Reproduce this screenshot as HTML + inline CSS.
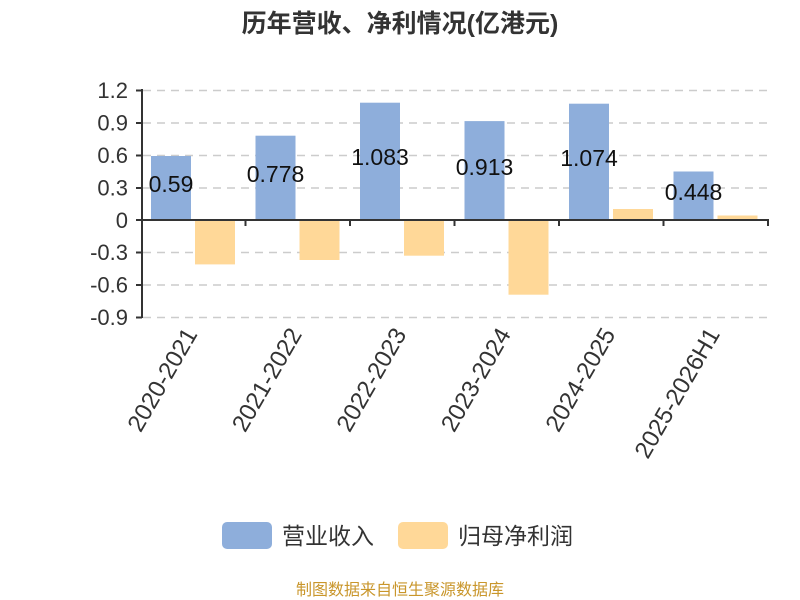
<!DOCTYPE html>
<html><head><meta charset="utf-8"><style>body{margin:0;background:#fff}svg{display:block}text{font-family:"Liberation Sans","Noto Sans CJK SC",sans-serif}</style></head><body>
<svg width="800" height="600" viewBox="0 0 800 600">
<text x="400" y="32" text-anchor="middle" font-size="25" font-weight="bold" fill="#333">历年营收、净利情况(亿港元)</text>
<g stroke="#ccc" stroke-width="1.5" stroke-dasharray="8,6">
<line x1="143" y1="90.5" x2="768" y2="90.5"/><line x1="143" y1="123" x2="768" y2="123"/><line x1="143" y1="155.5" x2="768" y2="155.5"/><line x1="143" y1="188" x2="768" y2="188"/><line x1="143" y1="252.5" x2="768" y2="252.5"/><line x1="143" y1="285" x2="768" y2="285"/><line x1="143" y1="317.5" x2="768" y2="317.5"/>
</g>
<g fill="#8eaedb">
<rect x="151" y="156" width="40" height="64"/><rect x="255.5" y="135.7" width="40" height="84.3"/><rect x="360" y="102.7" width="40" height="117.3"/><rect x="464.5" y="121.1" width="40" height="98.9"/><rect x="569" y="103.7" width="40" height="116.3"/><rect x="673.5" y="171.5" width="40" height="48.5"/>
</g>
<g fill="#ffd898">
<rect x="195" y="220" width="40" height="44.4"/><rect x="299.5" y="220" width="40" height="40"/><rect x="404" y="220" width="40" height="35.7"/><rect x="508.5" y="220" width="40" height="74.7"/><rect x="613" y="209" width="40" height="11"/><rect x="717.5" y="215.5" width="40" height="4.5"/>
</g>
<g stroke="#333" stroke-width="2" fill="none">
<line x1="142" y1="89" x2="142" y2="318"/><line x1="141" y1="220" x2="769" y2="220"/>
<line x1="136" y1="90.5" x2="142" y2="90.5"/><line x1="136" y1="123" x2="142" y2="123"/><line x1="136" y1="155.5" x2="142" y2="155.5"/><line x1="136" y1="188" x2="142" y2="188"/><line x1="136" y1="220" x2="142" y2="220"/><line x1="136" y1="252.5" x2="142" y2="252.5"/><line x1="136" y1="285" x2="142" y2="285"/><line x1="136" y1="317.5" x2="142" y2="317.5"/>
<line x1="245.5" y1="220" x2="245.5" y2="226"/><line x1="350" y1="220" x2="350" y2="226"/><line x1="454.5" y1="220" x2="454.5" y2="226"/><line x1="559" y1="220" x2="559" y2="226"/><line x1="663.5" y1="220" x2="663.5" y2="226"/><line x1="768" y1="220" x2="768" y2="226"/>
</g>
<g font-size="22" fill="#333" text-anchor="end">
<text x="128" y="98">1.2</text><text x="128" y="130.5">0.9</text><text x="128" y="163">0.6</text><text x="128" y="195.5">0.3</text><text x="128" y="228">0</text><text x="128" y="260">-0.3</text><text x="128" y="292.5">-0.6</text><text x="128" y="325">-0.9</text>
</g>
<g font-size="23" fill="#111" text-anchor="middle">
<text x="171" y="192">0.59</text><text x="275.5" y="182">0.778</text><text x="380" y="165">1.083</text><text x="484.5" y="175">0.913</text><text x="589" y="166">1.074</text><text x="693.5" y="200">0.448</text>
</g>
<g font-size="24" fill="#333" text-anchor="end">
<text transform="translate(198,334) rotate(-60)">2020-2021</text>
<text transform="translate(302.5,334) rotate(-60)">2021-2022</text>
<text transform="translate(407,334) rotate(-60)">2022-2023</text>
<text transform="translate(511.5,334) rotate(-60)">2023-2024</text>
<text transform="translate(616,334) rotate(-60)">2024-2025</text>
<text transform="translate(720.5,334) rotate(-60)">2025-2026H1</text>
</g>
<rect x="222" y="522" width="50" height="27" rx="5" fill="#8eaedb"/>
<text x="282" y="544" font-size="23" fill="#333">营业收入</text>
<rect x="398" y="522" width="50" height="27" rx="5" fill="#ffd898"/>
<text x="458" y="544" font-size="23" fill="#333">归母净利润</text>
<text x="400" y="595" text-anchor="middle" font-size="16" fill="#c9962b">制图数据来自恒生聚源数据库</text>
</svg>
</body></html>
